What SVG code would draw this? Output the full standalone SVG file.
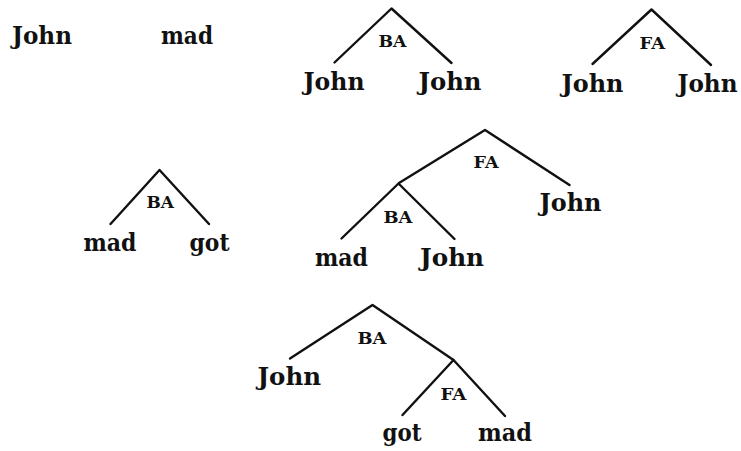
<svg xmlns="http://www.w3.org/2000/svg" width="741" height="451" viewBox="0 0 741 451">
<style>
.w{font-family:"DejaVu Serif","Liberation Serif",serif;font-weight:bold;font-size:25px;fill:#111}
.r{font-family:"DejaVu Serif","Liberation Serif",serif;font-weight:bold;font-size:17px;fill:#111}
.e{stroke:#111;stroke-width:2.4;fill:none;stroke-linecap:round;stroke-linejoin:round}
</style>
<rect width="741" height="451" fill="#fff"/>
<g id="connectors" class="e">
<polyline points="334.5,62.5 391.5,8.5 451.5,63"/>
<polyline points="592.5,64 651.5,9.5 711,65"/>
<polyline points="110.5,224 159.5,170 209,224"/>
<polyline points="399,183 485,130 569.5,185"/>
<polyline points="341.5,238.5 398.5,183.5 454.5,239"/>
<polyline points="290,358.5 372.5,305 453.5,360"/>
<polyline points="402.5,415 453.5,360 505,416"/>
</g>
<g id="n1"><text class="w" x="12" y="44" textLength="60" lengthAdjust="spacingAndGlyphs">John</text></g>
<g id="n2"><text class="w" x="161" y="44" textLength="52" lengthAdjust="spacingAndGlyphs">mad</text></g>
<g id="n3"><text class="r" x="378.5" y="46.5" textLength="28" lengthAdjust="spacingAndGlyphs">BA</text></g>
<g id="n4"><text class="w" x="303.5" y="90" textLength="61" lengthAdjust="spacingAndGlyphs">John</text></g>
<g id="n5"><text class="w" x="418.5" y="90" textLength="63" lengthAdjust="spacingAndGlyphs">John</text></g>
<g id="n6"><text class="r" x="639.5" y="49" textLength="25.5" lengthAdjust="spacingAndGlyphs">FA</text></g>
<g id="n7"><text class="w" x="561.5" y="91.5" textLength="62" lengthAdjust="spacingAndGlyphs">John</text></g>
<g id="n8"><text class="w" x="677.5" y="91.5" textLength="60" lengthAdjust="spacingAndGlyphs">John</text></g>
<g id="n9"><text class="r" x="146.5" y="207.5" textLength="27.5" lengthAdjust="spacingAndGlyphs">BA</text></g>
<g id="n10"><text class="w" x="83.5" y="250.5" textLength="53" lengthAdjust="spacingAndGlyphs">mad</text></g>
<g id="n11"><text class="w" x="189.5" y="250.5" textLength="40" lengthAdjust="spacingAndGlyphs">got</text></g>
<g id="n12"><text class="r" x="473.5" y="167.5" textLength="25" lengthAdjust="spacingAndGlyphs">FA</text></g>
<g id="n13"><text class="w" x="539.5" y="211" textLength="62" lengthAdjust="spacingAndGlyphs">John</text></g>
<g id="n14"><text class="r" x="383.5" y="222.5" textLength="29" lengthAdjust="spacingAndGlyphs">BA</text></g>
<g id="n15"><text class="w" x="315" y="266" textLength="53" lengthAdjust="spacingAndGlyphs">mad</text></g>
<g id="n16"><text class="w" x="420" y="266" textLength="64" lengthAdjust="spacingAndGlyphs">John</text></g>
<g id="n17"><text class="r" x="357.5" y="344" textLength="29" lengthAdjust="spacingAndGlyphs">BA</text></g>
<g id="n18"><text class="w" x="257.5" y="385" textLength="63.5" lengthAdjust="spacingAndGlyphs">John</text></g>
<g id="n19"><text class="r" x="440.5" y="400" textLength="26" lengthAdjust="spacingAndGlyphs">FA</text></g>
<g id="n20"><text class="w" x="382.5" y="441" textLength="39" lengthAdjust="spacingAndGlyphs">got</text></g>
<g id="n21"><text class="w" x="478" y="441" textLength="54" lengthAdjust="spacingAndGlyphs">mad</text></g>
</svg>
